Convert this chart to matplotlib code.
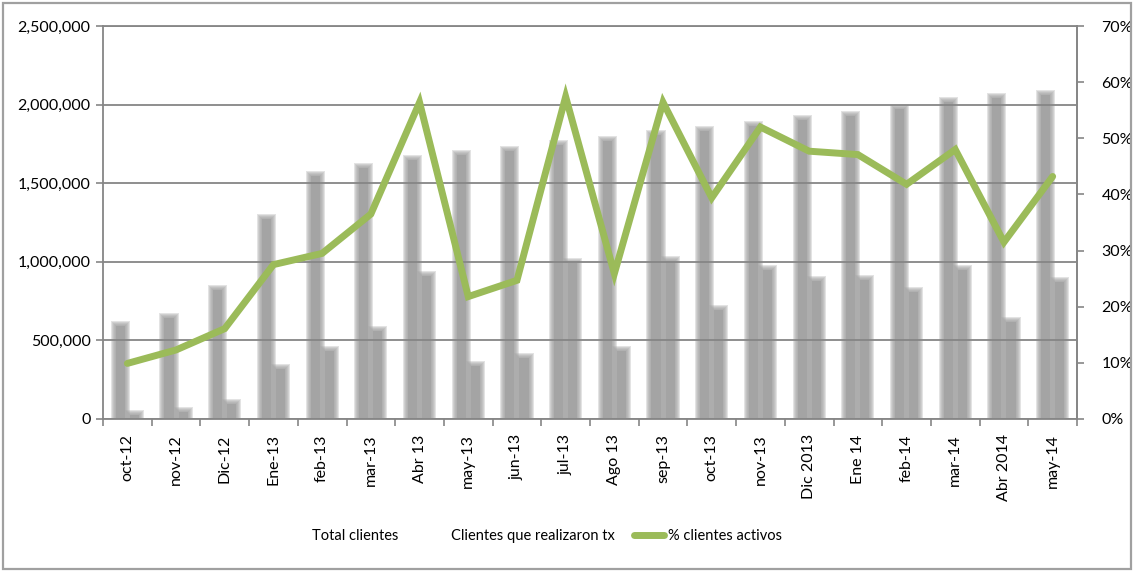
import matplotlib
matplotlib.use("Agg")
import matplotlib.pyplot as plt
import numpy as np
from matplotlib.patches import Rectangle, Patch
from matplotlib.lines import Line2D
from matplotlib.ticker import FuncFormatter, MultipleLocator, FixedLocator

plt.rcParams['font.family'] = ['Lato', 'DejaVu Sans']

categories = ["oct-12", "nov-12", "Dic-12", "Ene-13", "feb-13", "mar-13", "Abr 13",
              "may-13", "jun-13", "jul-13", "Ago 13", "sep-13", "oct-13", "nov-13",
              "Dic 2013", "Ene 14", "feb-14", "mar-14", "Abr 2014", "may-14"]
total_clientes = [610000, 660000, 835000, 1285000, 1560000, 1613000, 1662000,
                  1697000, 1719000, 1761000, 1782000, 1824000, 1850000, 1882000,
                  1916000, 1945000, 1988000, 2032000, 2058000, 2079000]
clientes_tx = [42000, 58000, 112000, 336000, 447000, 578000, 924000,
               355000, 404000, 1008000, 447000, 1019000, 711000, 966000,
               892000, 898000, 822000, 966000, 631000, 885000]
pct_activos = [9.9, 12.3, 16.1, 27.5, 29.5, 36.5, 56.4, 21.8, 24.7, 57.4,
               25.9, 56.4, 39.4, 52.0, 47.7, 47.1, 41.8, 48.0, 31.5, 43.2]
series_names = ["Total clientes", "Clientes que realizaron tx", "% clientes activos"]

W, H = 1134, 571
fig = plt.figure(figsize=(W / 100, H / 100), dpi=100)
fig.patch.set_facecolor('white')
ax = fig.add_axes([103 / W, 1 - 419 / H, (1077 - 103) / W, (419 - 26) / H])
ax2 = ax.twinx()

grid_c = '#868686'
bar_c = '#a4a4a4'
green = '#9bbb59'

x = np.arange(len(categories))
bw = 0.29
ymax = 2500000
px_x = 1 / 48.7
px_y = ymax / 393.0

def soft_bars(xpos, vals):
    # blurred-looking bars: translucent layers fading across the edge
    vals = np.array(vals)
    for k in [2.5, 1.5, 0.5, -0.5, -1.5]:
        ax.bar(xpos, vals + k * px_y, width=bw + 2 * k * px_x,
               color=bar_c, alpha=0.3, linewidth=0, zorder=1, antialiased=False)
    ax.bar(xpos, vals - 2.5 * px_y, width=bw - 5 * px_x, color=bar_c,
           linewidth=0, zorder=1.1, antialiased=False)

soft_bars(x - bw / 2, total_clientes)
soft_bars(x + bw / 2, clientes_tx)

ax.set_xlim(-0.5, len(categories) - 0.5)
ax.set_ylim(0, ymax)
ax.yaxis.set_major_locator(MultipleLocator(500000))
ax.yaxis.set_major_formatter(FuncFormatter(lambda v, p: f"{int(v):,}"))
ax.set_axisbelow(False)
ax.grid(axis='y', color=grid_c, linewidth=1.3)
ax.set_xticks(x)
ax.set_xticklabels(categories, rotation=90, fontsize=11.5)
ax.xaxis.set_minor_locator(FixedLocator(np.arange(-0.5, len(categories), 1)))
ax.tick_params(axis='x', which='major', length=0, pad=11)
ax.tick_params(axis='x', which='minor', length=5, color=grid_c, width=1.2, direction='out')
ax.tick_params(axis='y', length=5, color=grid_c, width=1.2, labelsize=11.5, pad=4)

for s in ['left', 'right', 'bottom', 'top']:
    ax.spines[s].set_color(grid_c)
    ax.spines[s].set_linewidth(1.3)
    ax2.spines[s].set_visible(False)
ax2.spines['right'].set_visible(True)
ax2.spines['right'].set_color(grid_c)
ax2.spines['right'].set_linewidth(1.3)

ax2.plot(x, pct_activos, color=green, linewidth=5, solid_capstyle='round',
         solid_joinstyle='miter', zorder=5)
ax2.set_ylim(0, 70)
ax2.yaxis.set_major_locator(MultipleLocator(10))
ax2.yaxis.set_major_formatter(FuncFormatter(lambda v, p: f"{int(round(v))}%"))
ax2.tick_params(axis='y', length=5, color=grid_c, width=1.2, labelsize=11.5, pad=12.5)

handles = [Patch(facecolor='none', edgecolor='none'),
           Patch(facecolor='none', edgecolor='none'),
           Line2D([0], [0], color=green, linewidth=5, solid_capstyle='round')]
fig.legend(handles, series_names, loc='center', bbox_to_anchor=(530 / W, 1 - 536 / H),
           ncol=3, frameon=False, fontsize=10.5, handlelength=2.05,
           handletextpad=0.27, columnspacing=1.3)

fig.patches.append(Rectangle((3 / W, 2 / H), (1131 - 3) / W, (568 - 2) / H,
                             transform=fig.transFigure, fill=False,
                             edgecolor='#a0a0a0', linewidth=1.6))

fig.savefig("out.png", dpi=100)
